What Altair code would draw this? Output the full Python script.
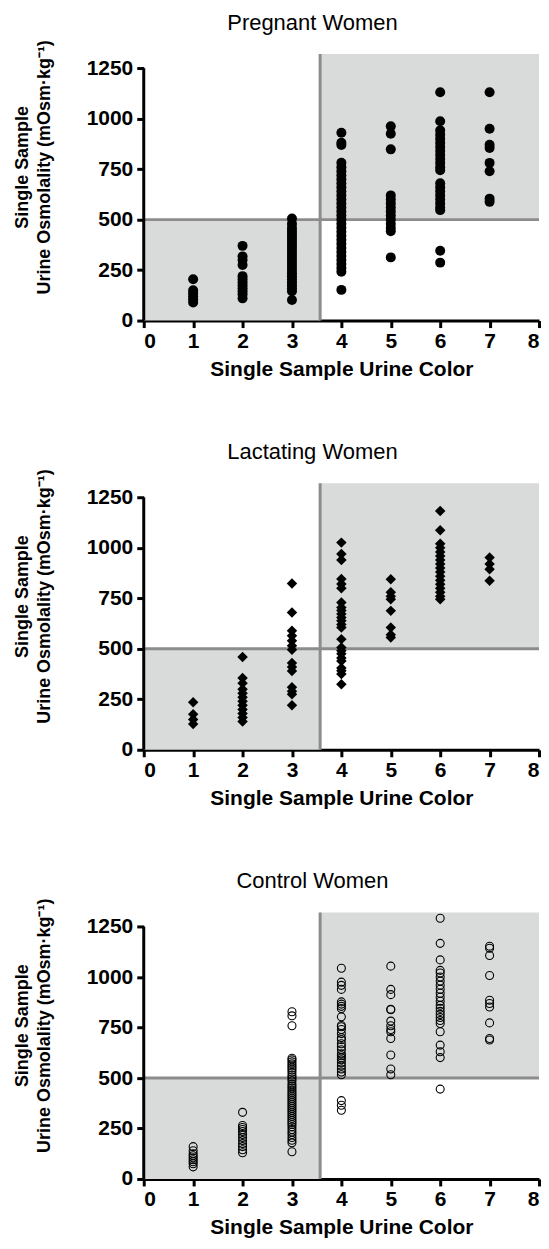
import altair as alt
import pandas as pd

# ---------------- data ----------------
X_TICKS = [0, 1, 2, 3, 4, 5, 6, 7, 8]
Y_TICKS = [0, 250, 500, 750, 1000, 1250]
COLOR_CUT = 3.57
OSM_CUT = 500
Y_TOP = 1320
X_MAX = 8

pregnant = {
    1: [205, 150, 135, 120, 105, 90],
    2: [370, 318, 300, 275, 220, 205, 190, 175, 160, 145, 130, 110],
    3: [505, 480, 460, 445, 430, 415, 400, 385, 370, 355, 340, 325, 310, 295,
        280, 265, 250, 235, 220, 205, 190, 175, 160, 145, 102],
    4: [930, 881, 870, 782, 760, 740, 720, 700, 680, 660, 640, 620, 600, 580,
        560, 540, 520, 500, 480, 460, 440, 420, 400, 380, 360, 340, 320, 300,
        280, 260, 242, 152],
    5: [962, 925, 848, 620, 600, 580, 560, 540, 520, 500, 480, 460, 442, 313],
    6: [1131, 987, 942, 920, 900, 880, 860, 840, 820, 800, 780, 760, 745, 680,
        660, 640, 620, 600, 580, 560, 547, 346, 287],
    7: [1131, 950, 871, 855, 781, 740, 604, 588],
}

lactating = {
    1: [235, 176, 150, 127],
    2: [460, 355, 330, 300, 280, 260, 240, 220, 200, 180, 160, 140],
    3: [823, 680, 590, 565, 540, 515, 495, 430, 410, 390, 310, 290, 275, 220],
    4: [1026, 970, 940, 846, 821, 800, 729, 705, 690, 673, 655, 639, 620, 606,
        548, 506, 490, 475, 455, 440, 405, 391, 375, 325],
    5: [845, 780, 760, 745, 688, 606, 570, 556],
    6: [1183, 1087, 1020, 1000, 980, 960, 940, 920, 900, 880, 860, 840, 820,
        800, 780, 760, 746],
    7: [952, 920, 894, 837],
}

control = {
    1: [160, 140, 125, 115, 105, 95, 85, 75, 60],
    2: [330, 265, 255, 245, 235, 220, 205, 190, 175, 160, 145, 130],
    3: [828, 808, 759, 598, 590, 580, 570, 560, 550, 540, 528, 515, 505, 495,
        485, 470, 460, 450, 440, 430, 420, 410, 400, 390, 380, 370, 360, 350,
        340, 330, 320, 310, 300, 290, 280, 270, 258, 245, 232, 220, 205, 192,
        179, 135],
    4: [1044, 975, 959, 939, 877, 866, 855, 844, 803, 760, 754, 740, 720, 700,
        690, 670, 655, 640, 620, 610, 600, 590, 575, 560, 545, 530, 516, 388,
        365, 340],
    5: [1054, 939, 913, 841, 838, 782, 759, 740, 729, 696, 614, 545, 516],
    6: [1291, 1167, 1085, 1033, 1020, 1000, 980, 960, 940, 920, 900, 880, 860,
        845, 830, 815, 800, 785, 770, 729, 663, 630, 601, 445],
    7: [1153, 1143, 1107, 1008, 885, 869, 852, 773, 696, 688],
}

X_TITLE = "Single Sample Urine Color"
Y_TITLE = ["Single Sample", "Urine Osmolality (mOsm\u00b7kg\u207b\u00b9)"]
FONT = "Liberation Sans"

xscale = alt.Scale(domain=[0, X_MAX], nice=False, zero=False)
yscale = alt.Scale(domain=[0, Y_TOP], nice=False)
xaxis = alt.Axis(values=X_TICKS, format="d", title=X_TITLE, titleFontSize=21,
                 titlePadding=7, labelPadding=3)
yaxis = alt.Axis(values=Y_TICKS, format="d", title=Y_TITLE, domain=False,
                 titleFontSize=18, titleLineHeight=22, titlePadding=33,
                 titleY=113, labelPadding=4)


def X(field):
    return alt.X(field, type="quantitative", scale=xscale, axis=xaxis)


def Y(field):
    return alt.Y(field, type="quantitative", scale=yscale, axis=yaxis)


def panel(title, data, shape, filled, size):
    df = pd.DataFrame([(c, v) for c, vals in data.items() for v in vals],
                      columns=["x", "y"])
    regions = pd.DataFrame({"x": [0, COLOR_CUT], "x2": [COLOR_CUT, X_MAX],
                            "y": [0, OSM_CUT], "y2": [OSM_CUT, Y_TOP]})
    rect = alt.Chart(regions).mark_rect(color="#d9dada").encode(
        x=X("x"), x2="x2", y=Y("y"), y2="y2")
    hline = alt.Chart(pd.DataFrame({"x": [0], "x2": [X_MAX], "y": [OSM_CUT]})).mark_rule(
        color="#8c8c8c", strokeWidth=3).encode(x=X("x"), x2="x2", y=Y("y"))
    vline = alt.Chart(pd.DataFrame({"x": [COLOR_CUT], "y": [0], "y2": [Y_TOP]})).mark_rule(
        color="#8c8c8c", strokeWidth=3).encode(x=X("x"), y=Y("y"), y2="y2")
    pts = alt.Chart(df).mark_point(shape=shape, filled=filled, size=size,
                                   color="black", opacity=1, strokeWidth=1.1).encode(
        x=X("x"), y=Y("y"))
    yline = alt.Chart(pd.DataFrame({"x": [0], "y": [0], "y2": [1250]})).mark_rule(
        color="black", strokeWidth=3).encode(x=X("x"), y=Y("y"), y2="y2")
    return alt.layer(rect, hline, vline, pts, yline).properties(
        width=396, height=267,
        title=alt.TitleParams(title, fontSize=22, font=FONT, fontWeight="normal",
                              color="black", anchor="middle", dx=-29, offset=5))


chart = alt.vconcat(
    panel("Pregnant Women", pregnant, "circle", True, 100),
    panel("Lactating Women", lactating, "diamond", True, 110),
    panel("Control Women", control, "circle", False, 64),
    spacing=61,
).configure_view(stroke=None).configure_axis(
    grid=False, domainColor="black", domainWidth=3, tickColor="black",
    tickWidth=3, tickSize=7, labelFont=FONT, labelFontSize=21,
    labelFontWeight="bold", labelColor="black", titleFont=FONT,
    titleFontWeight="bold", titleColor="black",
).properties(background="white",
             padding={"left": 5, "top": 2, "right": 0, "bottom": 2})

chart.save("out.html", embed_options={"renderer": "svg", "actions": False})
